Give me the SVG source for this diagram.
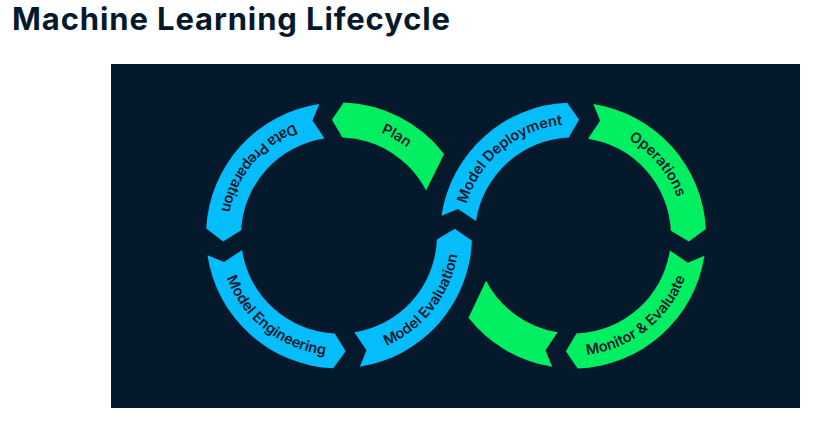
<svg xmlns="http://www.w3.org/2000/svg" width="836" height="423" viewBox="0 0 836 423">
<style>
  .title{font-family:Inter,"Liberation Sans",sans-serif;font-weight:700;font-size:31px;fill:#05192D}
  .blue{fill:#06BDFC}
  .green{fill:#03EF62}
  .lbl{font-family:Inter,"Liberation Sans",sans-serif;font-weight:600;font-size:14.5px;fill:#05192D}
</style>
<defs>
  <path id="tp-plan" d="M339,124.5 A111,111 0 0 1 435.13,180"/>
  <path id="tp-data" d="M318.16,117.32 A120,120 0 0 0 219,235.5"/>
  <path id="tp-eng" d="M219.07,239.69 A120,120 0 0 0 363.95,352.88"/>
  <path id="tp-eval" d="M343.19,355.43 A120,120 0 0 0 456.38,210.55"/>
  <path id="tp-dep" d="M462,234.53 A111,111 0 0 1 593.23,126.36"/>
  <path id="tp-ops" d="M573,124.5 A111,111 0 0 1 682.31,254.78"/>
  <path id="tp-mon" d="M548.05,352.88 A120,120 0 0 0 692.93,239.69"/>
</defs>
<rect width="836" height="423" fill="#FFFFFF"/>
<text class="title" x="12" y="30" textLength="438">Machine Learning Lifecycle</text>
<rect x="111" y="64" width="689" height="344" fill="#05192D"/>

<g id="plan">
  <path class="green" d="M343.64,102.58 A133,133 0 0 1 444.09,153.98 L426.08,190.55 A98,98 0 0 0 342.42,137.56 L331.92,119.72 Z"/>
  <text class="lbl" text-anchor="middle"><textPath href="#tp-plan" startOffset="50%">Plan</textPath></text>
</g>
<g id="data-preparation">
  <path class="blue" d="M319.34,103.96 A133,133 0 0 0 206.18,228.54 L223.16,241.57 L241.13,230.37 A98,98 0 0 1 324.52,138.58 L312.46,120.52 Z"/>
  <text class="lbl" text-anchor="middle"><textPath href="#tp-data" startOffset="50%">Data Preparation</textPath></text>
</g>
<g id="model-engineering">
  <path class="blue" d="M207.46,255.16 A133,133 0 0 0 333.2,368.37 L345.68,351.31 L334.73,333.41 A98,98 0 0 1 242.08,249.99 L224.02,262.04 Z"/>
  <text class="lbl" text-anchor="middle"><textPath href="#tp-eng" startOffset="50%">Model Engineering</textPath></text>
</g>
<g id="model-evaluation">
  <path class="blue" d="M359.81,366.86 A133,133 0 0 0 471.89,240.84 L454.81,228.82 L436.92,239.43 A98,98 0 0 1 354.33,332.29 L366.55,350.24 Z"/>
  <text class="lbl" text-anchor="middle"><textPath href="#tp-eval" startOffset="50%">Model Evaluation</textPath></text>
</g>
<g id="model-deployment">
  <path class="blue" d="M441.46,215.84 A133,133 0 0 1 567.2,102.63 L579.07,119.66 L568.73,137.59 A98,98 0 0 0 476.08,221.02 L458.02,208.96 Z"/>
  <text class="lbl" text-anchor="middle"><textPath href="#tp-dep" startOffset="50%">Model Deployment</textPath></text>
</g>
<g id="operations">
  <path class="green" d="M593.35,104.07 A133,133 0 0 1 705.84,229 L688.84,241.57 L670.88,230.71 A98,98 0 0 0 587.99,138.65 L600.15,120.67 Z"/>
  <text class="lbl" text-anchor="middle"><textPath href="#tp-ops" startOffset="50%">Operations</textPath></text>
</g>
<g id="monitor-evaluate">
  <path class="green" d="M704.43,255.85 A133,133 0 0 1 577.64,368.42 L565.92,351.28 L576.42,333.44 A98,98 0 0 0 669.85,250.49 L687.84,262.65 Z"/>
  <text class="lbl" text-anchor="middle"><textPath href="#tp-mon" startOffset="50%">Monitor &amp; Evaluate</textPath></text>
</g>
<g id="crossover">
  <path class="green" d="M552.19,366.86 A133,133 0 0 1 468.48,317.75 L486.07,280.75 A98,98 0 0 0 557.67,332.29 L545.45,350.24 Z"/>
</g>
<g id="connectors"></g>
</svg>
